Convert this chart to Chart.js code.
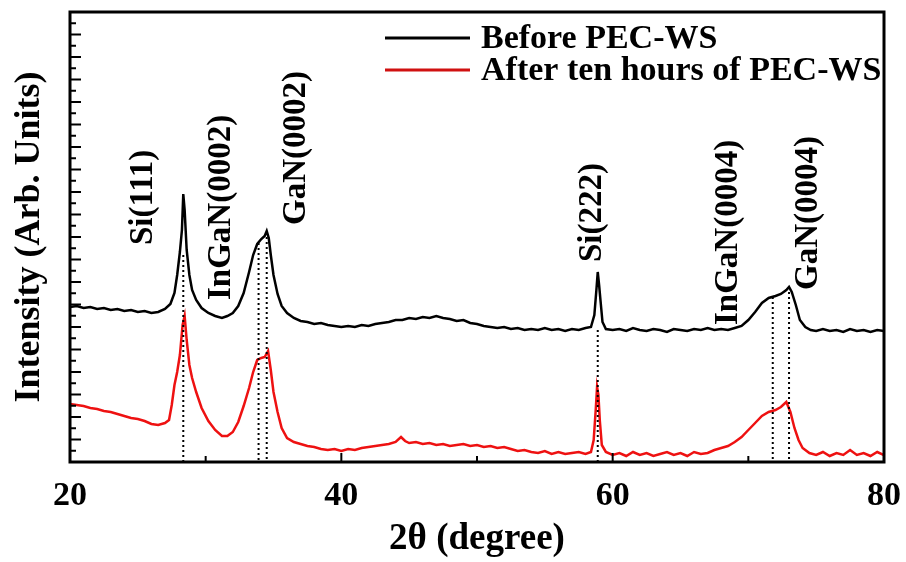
<!DOCTYPE html>
<html>
<head>
<meta charset="utf-8">
<script src="https://cdn.jsdelivr.net/npm/chart.js@4"></script>
<style>
  html, body { margin:0; padding:0; background:#fff; }
  #wrap { width:906px; height:562px; }
</style>
</head>
<body>
<div id="wrap"><canvas id="xrd"></canvas></div>
<script>
/* ===============================
   DATA
================================ */
const beforeAngle = [20.0,20.5,21.0,21.5,22.0,22.5,23.0,23.5,24.0,24.5,25.0,25.5,26.0,26.5,27.0,27.4,27.7,27.9,28.1,28.25,28.35,28.45,28.6,28.8,29.0,29.3,29.7,30.2,30.7,31.2,31.6,32.0,32.4,32.8,33.2,33.5,33.8,34.1,34.35,34.5,34.65,34.8,35.0,35.3,35.6,36.0,36.5,37.0,37.5,38.0,38.5,39.0,39.5,40.0,40.5,41.0,41.5,42.0,42.5,43.0,43.5,44.0,44.5,45.0,45.5,46.0,46.5,47.0,47.5,48.0,48.5,49.0,49.5,50.0,50.5,51.0,51.5,52.0,52.5,53.0,53.5,54.0,54.5,55.0,55.5,56.0,56.5,57.0,57.5,58.0,58.4,58.65,58.8,58.9,59.0,59.1,59.25,59.5,60.0,60.5,61.0,61.5,62.0,62.5,63.0,63.5,64.0,64.5,65.0,65.5,66.0,66.5,67.0,67.5,68.0,68.5,69.0,69.5,70.0,70.5,71.0,71.5,72.0,72.4,72.8,73.0,73.2,73.5,73.8,74.2,74.6,75.0,75.5,76.0,76.5,77.0,77.5,78.0,78.5,79.0,79.5,80.0];
const beforeIntensity = [155,156,154,155,153,154,152,153,151,152,150,151,149,150,153,158,169,187,210,232,268,252,212,187,172,162,154,149,146,144,146,149,156,169,190,207,218,223,226,231,224,207,187,168,156,149,144,141,140,138,139,137,136,135,136,135,137,136,138,139,140,142,142,144,143,145,144,146,144,143,141,142,139,138,136,135,134,135,133,134,132,133,132,134,132,133,131,133,132,134,135,147,172,190,177,162,140,133,132,133,131,134,132,131,133,132,130,133,132,131,133,132,134,132,133,132,134,136,142,150,159,164,166,168,172,175,170,157,142,135,132,131,133,131,132,130,133,131,132,130,132,131];

const afterAngle = [20.0,20.5,21.0,21.5,22.0,22.5,23.0,23.5,24.0,24.5,25.0,25.5,26.0,26.5,27.0,27.3,27.5,27.7,27.9,28.1,28.3,28.45,28.6,28.8,29.0,29.3,29.7,30.2,30.7,31.2,31.6,32.0,32.4,32.8,33.2,33.5,33.8,34.1,34.35,34.6,34.8,35.0,35.3,35.6,36.0,36.5,37.0,37.5,38.0,38.5,39.0,39.5,40.0,40.5,41.0,41.5,42.0,42.5,43.0,43.5,44.0,44.4,44.7,45.0,45.5,46.0,46.5,47.0,47.5,48.0,48.5,49.0,49.5,50.0,50.5,51.0,51.5,52.0,52.5,53.0,53.5,54.0,54.5,55.0,55.5,56.0,56.5,57.0,57.5,58.0,58.4,58.6,58.75,58.85,58.95,59.05,59.2,59.5,60.0,60.5,61.0,61.5,62.0,62.5,63.0,63.5,64.0,64.5,65.0,65.5,66.0,66.5,67.0,67.5,68.0,68.5,69.0,69.5,70.0,70.5,71.0,71.5,72.0,72.4,72.8,73.1,73.4,73.7,74.0,74.5,75.0,75.5,76.0,76.5,77.0,77.5,78.0,78.5,79.0,79.5,80.0];
const afterIntensity = [58,57,56,54,53,51,50,48,46,44,43,41,38,37,39,42,57,77,90,107,137,146,122,97,84,70,54,41,32,26,26,30,40,56,74,90,102,104,105,111,92,70,50,34,24,20,18,16,15,13,12,13,11,13,12,14,15,16,17,18,20,25,21,19,20,18,19,17,18,16,17,18,16,17,15,16,14,15,13,11,12,10,9,11,8,10,8,9,10,8,10,22,52,75,67,42,17,10,7,9,6,10,7,9,6,8,10,7,9,6,10,8,9,12,14,16,20,25,32,39,46,50,52,55,60,50,34,22,14,9,7,10,6,9,7,12,7,9,6,10,7];

// dotted guide lines from the upper curve down to the axis
const peakAngles = [28.35, 33.9, 34.5, 58.9, 71.8, 73.0];
const peakTops   = [207, 219, 230, 132, 165, 175];

// rotated peak labels: angle of label centre, intensity where the text starts
const peakNames  = ["Si(111)", "InGaN(0002)", "GaN(0002)", "Si(222)", "InGaN(0004)", "GaN(0004)"];
const labelAngle = [25.4, 31.2, 36.7, 58.5, 68.5, 74.4];
const labelBase  = [217, 162, 237, 200, 137, 172];

const seriesNames = ["Before PEC-WS", "After ten hours of PEC-WS"];
const xTickLabels = [20, 40, 60, 80];

const SERIF = "'Liberation Serif', 'Times New Roman', serif";

/* ===============================
   PLUGINS
================================ */
const framePlugin = {
  id: "frame",
  afterDatasetsDraw(chart) {
    const { ctx, chartArea: a, scales: { x, y } } = chart;
    ctx.save();
    ctx.strokeStyle = "#000";
    ctx.lineWidth = 2;
    // inward ticks on the x axis
    x.ticks.forEach(t => {
      const px = x.getPixelForValue(t.value);
      const len = t.value % 20 === 0 ? 9 : 6;
      ctx.beginPath();
      ctx.moveTo(px, a.bottom);
      ctx.lineTo(px, a.bottom - len);
      ctx.stroke();
    });
    // inward ticks on the y axis
    y.ticks.forEach((t, i) => {
      const py = y.getPixelForValue(t.value);
      const len = i % 2 === 0 ? 11 : 6;
      ctx.beginPath();
      ctx.moveTo(a.left, py);
      ctx.lineTo(a.left + len, py);
      ctx.stroke();
    });
    ctx.lineWidth = 3;
    ctx.strokeRect(a.left, a.top, a.right - a.left, a.bottom - a.top);
    ctx.restore();
  }
};

const peakLabelPlugin = {
  id: "peakLabels",
  afterDatasetsDraw(chart) {
    const { ctx, scales: { x, y } } = chart;
    ctx.save();
    ctx.fillStyle = "#000";
    ctx.font = "bold 33px " + SERIF;
    ctx.textAlign = "left";
    ctx.textBaseline = "middle";
    peakNames.forEach((name, i) => {
      ctx.save();
      ctx.translate(x.getPixelForValue(labelAngle[i]), y.getPixelForValue(labelBase[i]));
      ctx.rotate(-Math.PI / 2);
      ctx.fillText(name, 0, 0);
      ctx.restore();
    });
    ctx.restore();
  }
};

const legendPlugin = {
  id: "boxLegend",
  afterDraw(chart) {
    const { ctx } = chart;
    const colors = ["#000000", "#d01010"];
    ctx.save();
    ctx.font = "bold 34px " + SERIF;
    ctx.textBaseline = "middle";
    ctx.textAlign = "left";
    seriesNames.forEach((name, i) => {
      const yy = 38 + i * 32;
      ctx.strokeStyle = colors[i];
      ctx.lineWidth = 3;
      ctx.beginPath();
      ctx.moveTo(385, yy);
      ctx.lineTo(470, yy);
      ctx.stroke();
      ctx.fillStyle = "#000";
      ctx.fillText(name, 481, yy + 1);
    });
    ctx.restore();
  }
};

/* ===============================
   CHART
================================ */
const datasets = [
  {
    label: seriesNames[0],
    data: beforeAngle.map((a, i) => ({ x: a, y: beforeIntensity[i] })),
    borderColor: "#000000",
    borderWidth: 2.5,
    pointRadius: 0,
    tension: 0,
    order: 2
  },
  {
    label: seriesNames[1],
    data: afterAngle.map((a, i) => ({ x: a, y: afterIntensity[i] })),
    borderColor: "#ee1111",
    borderWidth: 2.5,
    pointRadius: 0,
    tension: 0,
    order: 2
  }
];
peakAngles.forEach((a, i) => {
  datasets.push({
    label: "guide" + i,
    data: [{ x: a, y: peakTops[i] }, { x: a, y: 0 }],
    borderColor: "#000",
    borderWidth: 2,
    borderDash: [2, 3],
    pointRadius: 0,
    order: 1
  });
});

new Chart(document.getElementById("xrd"), {
  type: "line",
  data: { datasets },
  options: {
    responsive: true,
    maintainAspectRatio: false,
    animation: false,
    layout: { padding: { top: 12, right: 22, left: 0, bottom: 0 } },
    plugins: { legend: { display: false }, tooltip: { enabled: false } },
    scales: {
      x: {
        type: "linear",
        min: 20,
        max: 80,
        border: { display: false },
        grid: { display: false, drawTicks: false },
        ticks: {
          stepSize: 10,
          padding: 14,
          color: "#000",
          font: { family: SERIF, size: 34, weight: "bold" },
          callback: v => xTickLabels.includes(v) ? String(v) : ""
        },
        title: {
          display: true,
          text: "2θ (degree)",
          color: "#000",
          font: { family: SERIF, size: 37, weight: "bold" },
          padding: { top: 0, bottom: 0 }
        },
        afterFit: s => { s.height = 100; s.paddingLeft = 0; s.paddingRight = 0; }
      },
      y: {
        min: 0,
        max: 450,
        border: { display: false },
        grid: { display: false, drawTicks: false },
        ticks: { display: false, stepSize: 11.25 },
        title: {
          display: true,
          text: "Intensity (Arb. Units)",
          color: "#000",
          font: { family: SERIF, size: 36, weight: "bold" },
          padding: { top: 8, bottom: 0 }
        },
        afterFit: s => { s.width = 70; }
      }
    }
  },
  plugins: [framePlugin, peakLabelPlugin, legendPlugin]
});
</script>
</body>
</html>
